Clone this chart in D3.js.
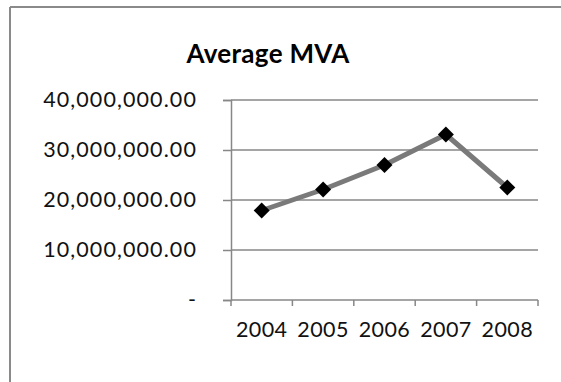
<!DOCTYPE html>
<html>
<head>
<meta charset="utf-8">
<script src="https://cdn.jsdelivr.net/npm/d3@7"></script>
<style>
  html, body { margin: 0; padding: 0; background: #fff; }
  svg { display: block; }
</style>
</head>
<body>
<svg id="chart" width="561" height="382"></svg>
<script>
// Chart data
const years = ["2004", "2005", "2006", "2007", "2008"];
const averageMVA = [17900000, 22100000, 27000000, 33100000, 22500000];
const yTicks = [0, 10000000, 20000000, 30000000, 40000000];
const chartTitle = "Average MVA";

const W = 561, H = 382;
const plot = { left: 231, right: 538, top: 100, bottom: 300 };
const fontFamily = "Lato, 'Open Sans', sans-serif";

const svg = d3.select("#chart");

// Outer chart frame (left and top edges visible)
svg.append("line").attr("x1", 10).attr("x2", 10).attr("y1", 7).attr("y2", H)
  .attr("stroke", "#8a8a8a").attr("stroke-width", 2);
svg.append("line").attr("x1", 10).attr("x2", W).attr("y1", 7).attr("y2", 7)
  .attr("stroke", "#8a8a8a").attr("stroke-width", 2);

const x = d3.scaleBand().domain(years).range([plot.left, plot.right]);
const y = d3.scaleLinear().domain([0, 40000000]).range([plot.bottom, plot.top]);

// Title
svg.append("text")
  .attr("x", 268).attr("y", 63)
  .attr("text-anchor", "middle")
  .attr("font-family", fontFamily)
  .attr("font-weight", "bold")
  .attr("font-size", 26)
  .attr("letter-spacing", 0.3)
  .attr("fill", "#000")
  .text(chartTitle);

// Horizontal gridlines
svg.append("g").selectAll("line").data(yTicks.filter(d => d > 0)).join("line")
  .attr("x1", plot.left).attr("x2", plot.right)
  .attr("y1", d => y(d)).attr("y2", d => y(d))
  .attr("stroke", "#878787").attr("stroke-width", 1.5);

// Y axis
const fmt = d => d === 0 ? "-" : d3.format(",.2f")(d);
const yAxis = svg.append("g")
  .attr("transform", `translate(${plot.left},0)`)
  .call(d3.axisLeft(y).tickValues(yTicks).tickFormat(fmt).tickSize(8).tickPadding(26));
yAxis.select(".domain").attr("stroke", "#878787").attr("stroke-width", 1.5);
yAxis.selectAll(".tick line").attr("stroke", "#878787").attr("stroke-width", 1.5);
yAxis.selectAll(".tick text")
  .attr("font-family", fontFamily).attr("font-size", 21.5)
  .attr("letter-spacing", 1.1).attr("fill", "#111");

// X axis (ticks on category boundaries)
const xAxis = svg.append("g")
  .attr("transform", `translate(0,${plot.bottom})`);
xAxis.append("line")
  .attr("x1", plot.left).attr("x2", plot.right)
  .attr("stroke", "#878787").attr("stroke-width", 1.5);
const boundaries = years.map(d => x(d)).concat([x(years[years.length - 1]) + x.bandwidth()]);
xAxis.selectAll("line.tk").data(boundaries).join("line").attr("class", "tk")
  .attr("x1", d => d).attr("x2", d => d).attr("y1", 0).attr("y2", 6)
  .attr("stroke", "#878787").attr("stroke-width", 1.5);
xAxis.selectAll("text").data(years).join("text")
  .attr("x", d => x(d) + x.bandwidth() / 2)
  .attr("y", 37)
  .attr("text-anchor", "middle")
  .attr("font-family", fontFamily).attr("font-size", 21.5)
  .attr("letter-spacing", 0.4).attr("fill", "#111")
  .text(d => d);

// Series line
const pts = years.map((yr, i) => [x(yr) + x.bandwidth() / 2, y(averageMVA[i])]);
svg.append("path")
  .attr("d", d3.line()(pts))
  .attr("fill", "none")
  .attr("stroke", "#7a7a7a")
  .attr("stroke-width", 5)
  .attr("stroke-linejoin", "round");

// Diamond markers
const diamond = d3.symbol().type(d3.symbolSquare).size(128);
svg.append("g").selectAll("path").data(pts).join("path")
  .attr("d", diamond)
  .attr("transform", d => `translate(${d[0]},${d[1]}) rotate(45)`)
  .attr("fill", "#000");
</script>
</body>
</html>
